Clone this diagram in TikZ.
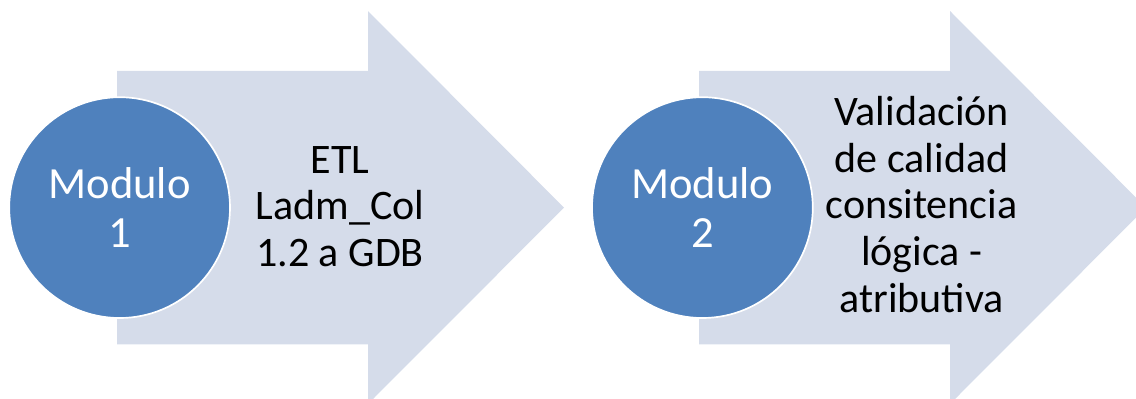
\documentclass[tikz,border=0pt]{standalone}
\usepackage{fontspec}
\setmainfont{Carlito}
\definecolor{pfeilblau}{RGB}{213,220,234}
\definecolor{kreisblau}{RGB}{79,129,189}
\begin{document}
\begin{tikzpicture}
			\tikzset{kreis/.style={circle, fill=kreisblau, draw=white, line width=1.2pt, minimum size=5.52cm, inner sep=0, text=white, align=center, font=\fontsize{31.7}{34.5}\selectfont}}
			\tikzset{schrift/.style={align=center, text=black, inner sep=0, font=\fontsize{29.9}{33.2}\selectfont}}
			\useasboundingbox (0,0) rectangle (28.4,-9.95);
			\clip (0,0) rectangle (28.4,-9.95);

			% Arrows
			\fill [pfeilblau] (2.93,-1.77) -- (9.2,-1.77) -- (9.2,-0.275) -- (14.1,-5.19) -- (9.2,-10.1) -- (9.2,-8.61) -- (2.93,-8.61) -- cycle;
			\fill [pfeilblau] (17.48,-1.77) -- (23.75,-1.77) -- (23.75,-0.275) -- (28.65,-5.19) -- (23.75,-10.1) -- (23.75,-8.61) -- (17.48,-8.61) -- cycle;

			% Modules
			\node[kreis] at (2.99, -5.19) (m1) {Modulo\\1};
			\node[kreis] at (17.56, -5.19) (m2) {Modulo\\2};

			% Descriptions
			\node[schrift] at (8.5, -5.16) (t1) {ETL\\Ladm\_Col\\1.2 a GDB};
			\node[schrift] at (23.04, -5.11) (t2) {Validación\\de calidad\\consitencia\\lógica -\\atributiva};
		\end{tikzpicture}
\end{document}
